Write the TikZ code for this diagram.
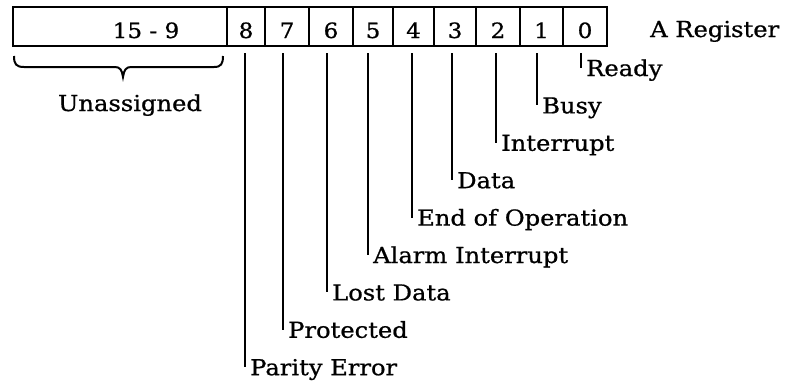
\documentclass[tikz,border=0pt]{standalone}
\usepackage{fontspec}
\setmainfont{DejaVu Serif}[FakeStretch=1.1,FakeBold=0.8]
\begin{document}
\begin{tikzpicture}[x=1pt,y=-1pt,
  cell/.style={draw,line width=2.2pt,minimum height=39pt,inner sep=0pt,anchor=center},
  digit/.style={anchor=base,inner sep=0pt,font=\fontsize{21}{25}\selectfont},
  lab/.style={anchor=base west,inner sep=0pt,font=\fontsize{22}{26}\selectfont},
  lead/.style={line width=2pt},
  brace/.style={line width=2pt}]
\useasboundingbox (0,0) rectangle (788,381);
% register cells
\node[cell,minimum width=214pt] (c15) at (120,26.5) {};
\node[cell,minimum width=38pt] (c8) at (246,26.5) {};
\node[cell,minimum width=44pt] (c7) at (287,26.5) {};
\node[cell,minimum width=44pt] (c6) at (331,26.5) {};
\node[cell,minimum width=40pt] (c5) at (373,26.5) {};
\node[cell,minimum width=41pt] (c4) at (413.5,26.5) {};
\node[cell,minimum width=42pt] (c3) at (455,26.5) {};
\node[cell,minimum width=44pt] (c2) at (498,26.5) {};
\node[cell,minimum width=43pt] (c1) at (541.5,26.5) {};
\node[cell,minimum width=44pt] (c0) at (585,26.5) {};
% digits
\node[digit] (d15) at (146,38) {15 - 9};
\node[digit] (d8) at (246,38) {8};
\node[digit] (d7) at (287,38) {7};
\node[digit] (d6) at (331,38) {6};
\node[digit] (d5) at (373,38) {5};
\node[digit] (d4) at (413.5,38) {4};
\node[digit] (d3) at (455,38) {3};
\node[digit] (d2) at (498,38) {2};
\node[digit] (d1) at (541.5,38) {1};
\node[digit] (d0) at (585,38) {0};
\node[lab] (areg) at (650,37) {A Register};
% brace and Unassigned
\draw[brace] (14,56) .. controls (14,64) and (16,67) .. (24,67) -- (115,67)
  .. controls (120,67) and (122,70) .. (123,77)
  .. controls (124,70) and (126,67) .. (131,67) -- (214,67)
  .. controls (221,67) and (223,64) .. (223,56);
\node[lab,anchor=base] (un) at (130,111) {Unassigned};
% leader tops
\coordinate (t0) at (581,53);
\coordinate (t1) at (537,53);
\coordinate (t2) at (496,53);
\coordinate (t3) at (452,53);
\coordinate (t4) at (412,53);
\coordinate (t5) at (368,53);
\coordinate (t6) at (327,53);
\coordinate (t7) at (283,53);
\coordinate (t8) at (245,53);
% labels
\node[lab] (l0) at (586,76) {Ready};
\node[lab] (l1) at (542,113.4) {Busy};
\node[lab] (l2) at (501,150.8) {Interrupt};
\node[lab] (l3) at (457,188.2) {Data};
\node[lab] (l4) at (417,225.6) {End of Operation};
\node[lab] (l5) at (373,263) {Alarm Interrupt};
\node[lab] (l6) at (332,300.4) {Lost Data};
\node[lab] (l7) at (288,337.8) {Protected};
\node[lab] (l8) at (250,375.2) {Parity Error};
% leaders
\foreach \i in {0,...,8}{
  \draw[lead] (t\i) -- ([yshift=8pt]t\i |- l\i.base);
}
\end{tikzpicture}
\end{document}
